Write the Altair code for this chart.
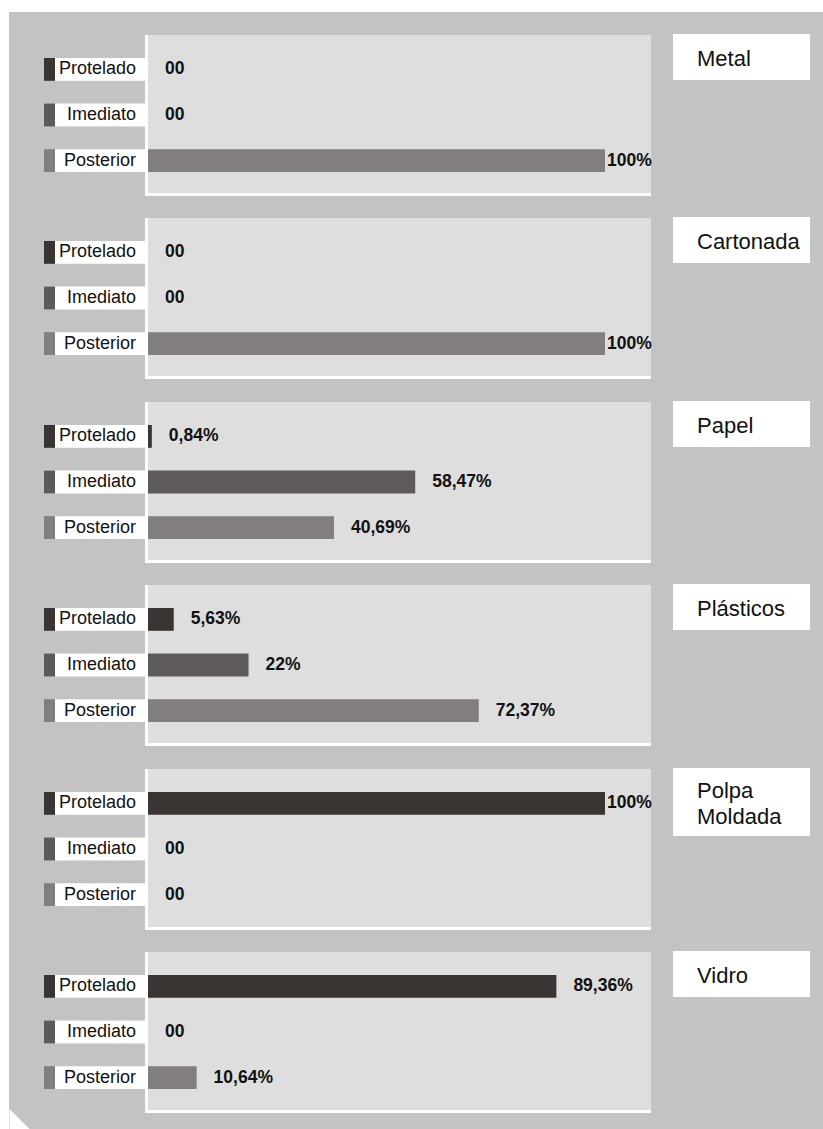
import altair as alt
import pandas as pd

materials = ["Metal", "Cartonada", "Papel", "Plásticos", "Polpa Moldada", "Vidro"]
name_lines = [["Metal"], ["Cartonada"], ["Papel"], ["Plásticos"], ["Polpa", "Moldada"], ["Vidro"]]
rows = ["Protelado", "Imediato", "Posterior"]
protelado = [0, 0, 0.84, 5.63, 100, 89.36]
imediato = [0, 0, 58.47, 22, 0, 0]
posterior = [100, 100, 40.69, 72.37, 0, 10.64]

colors = ["#3a3532", "#5e5a59", "#817e7d"]
FONT = "Liberation Sans"


def fmt(v):
    if v == 0:
        return "00"
    return f"{v:g}".replace(".", ",") + "%"


records = []
for i, m in enumerate(materials):
    for r, vals in zip(rows, [protelado, imediato, posterior]):
        records.append({"material": m, "row": r, "value": vals[i], "label": fmt(vals[i])})
df = pd.DataFrame(records)

W = 823
cell_heights = [207, 184, 183, 184, 183, 188]
panels = []
for i, m in enumerate(materials):
    t = 35 if i == 0 else 11
    H = cell_heights[i]
    base = alt.Chart(df).transform_filter(alt.datum.material == m)
    one = alt.Chart(pd.DataFrame({"k": [m]}))
    yenc = alt.Y("row:N", sort=rows, axis=None,
                 scale=alt.Scale(domain=rows, range=[t + 23, t + 137],
                                 paddingInner=0.5, paddingOuter=0))
    xs = alt.Scale(domain=[0, 100], range=[148, 605])
    cenc = alt.Color("row:N", scale=alt.Scale(domain=rows, range=colors), legend=None)

    layers = []
    # white left strip of page
    layers.append(one.mark_rect(color="white").encode(
        x=alt.value(0), x2=alt.value(9), y=alt.value(0), y2=alt.value(H)))
    if i == 0:
        layers.append(one.mark_rect(color="white").encode(
            x=alt.value(0), x2=alt.value(W), y=alt.value(0), y2=alt.value(12)))
    if i == len(materials) - 1:
        layers.append(one.mark_point(shape="M-1,-1L-1,1L1,1Z", filled=True,
                                     color="white", opacity=1, size=400).encode(
            x=alt.value(19.5), y=alt.value(178)))
    # panel box
    layers.append(one.mark_rect(color="#dedede").encode(
        x=alt.value(145), x2=alt.value(651), y=alt.value(t), y2=alt.value(t + 161)))
    layers.append(one.mark_rect(color="white").encode(
        x=alt.value(145), x2=alt.value(148), y=alt.value(t), y2=alt.value(t + 161)))
    layers.append(one.mark_rect(color="white").encode(
        x=alt.value(145), x2=alt.value(651), y=alt.value(t + 158), y2=alt.value(t + 161)))
    # name box
    nl = name_lines[i]
    bh = 46 if len(nl) == 1 else 68
    layers.append(one.mark_rect(color="white").encode(
        x=alt.value(673), x2=alt.value(810), y=alt.value(t - 1), y2=alt.value(t - 1 + bh)))
    ty = t + 31 if len(nl) == 1 else t + 29
    layers.append(one.mark_text(text="\n".join(nl), lineBreak="\n", lineHeight=26,
                                align="left", baseline="alphabetic", font=FONT,
                                fontSize=22, color="#111111").encode(
        x=alt.value(697), y=alt.value(ty)))
    # row markers and label boxes
    layers.append(base.mark_rect().encode(
        x=alt.value(44), x2=alt.value(55), y=yenc, color=cenc))
    layers.append(base.mark_rect(color="white").encode(
        x=alt.value(55), x2=alt.value(145), y=yenc))
    layers.append(base.mark_text(align="right", baseline="middle", font=FONT,
                                 fontSize=18, color="#111111").encode(
        x=alt.value(136), y=yenc, text="row:N"))
    # bars
    layers.append(base.mark_bar().encode(
        x=alt.X("value:Q", scale=xs, axis=None), y=yenc, color=cenc))
    # value labels
    layers.append(base.transform_filter(alt.datum.value < 100).mark_text(
        align="left", baseline="middle", dx=17, font=FONT, fontSize=17.5,
        fontWeight="bold", color="#111111").encode(
        x=alt.X("value:Q", scale=xs, axis=None), y=yenc, text="label:N"))
    layers.append(base.transform_filter(alt.datum.value >= 100).mark_text(
        align="left", baseline="middle", dx=2, font=FONT, fontSize=17.5,
        fontWeight="bold", color="#111111").encode(
        x=alt.X("value:Q", scale=xs, axis=None), y=yenc, text="label:N"))

    panels.append(alt.layer(*layers).properties(width=W, height=H))

chart = alt.vconcat(*panels, spacing=0).resolve_scale(
    x="independent", y="independent"
).properties(background="#c3c3c3", padding=0).configure_view(strokeWidth=0)

chart.save("out.html", embed_options={"renderer": "svg", "actions": False})
